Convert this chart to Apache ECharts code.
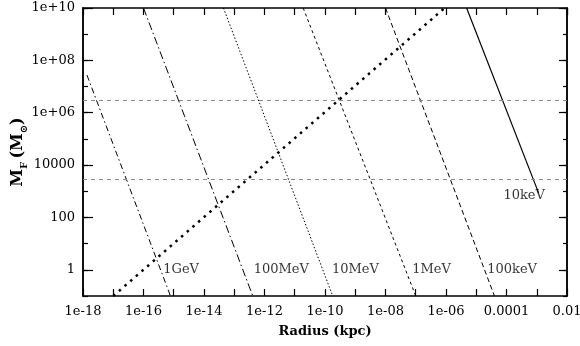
<!DOCTYPE html>
<html>
<head>
<meta charset="utf-8">
<script src="https://cdn.jsdelivr.net/npm/echarts@6/dist/echarts.min.js"></script>
<style>
html, body { margin: 0; padding: 0; background: #fff; }
#chart { width: 580px; height: 346px; }
</style>
</head>
<body>
<div id="chart"></div>
<script>
// end points of each straight line (log-log)
var curveNames = ['1GeV', '100MeV', '10MeV', '1MeV', '100keV', '10keV'];
var curve1GeV = [[1.35e-18, 2.75e7], [7.8e-16, 0.1]];
var curve100MeV = [[1.0e-16, 1e10], [4.1e-13, 0.1]];
var curve10MeV = [[4.4e-14, 1e10], [1.8e-10, 0.1]];
var curve1MeV = [[1.9e-11, 1e10], [1.0e-7, 0.1]];
var curve100keV = [[1.0e-8, 1e10], [4.0e-5, 0.1]];
var curve10keV = [[4.8e-6, 1e10], [1.15e-3, 870]];
var risingLine = [[1e-17, 0.1], [9e-7, 1e10]];

// horizontal reference levels
var refLevels = [3e6, 3e3];

// text next to the curves: [x, y, text]
var curveLabels = [
	[4.5e-16, 1, '1GeV'],
	[4.4e-13, 1, '100MeV'],
	[1.7e-10, 1, '10MeV'],
	[7.6e-8, 1, '1MeV'],
	[2.3e-5, 1, '100keV'],
	[7.9e-5, 660, '10keV']
];

// tick labels (exponent -> text)
var xTickExps = [-18, -16, -14, -12, -10, -8, -6, -4, -2];
var xTickTexts = ['1e-18', '1e-16', '1e-14', '1e-12', '1e-10', '1e-08', '1e-06', '0.0001', '0.01'];
var yTickExps = [0, 2, 4, 6, 8, 10];
var yTickTexts = ['1', '100', '10000', '1e+06', '1e+08', '1e+10'];

var FONT = '"DejaVu Serif", "Liberation Serif", serif';

function tickText(exps, texts) {
	return function(v) {
		var e = Math.round(Math.log10(v));
		var i = exps.indexOf(e);
		return i < 0 ? '' : texts[i];
	};
}

function logAxis(opts) {
	var ax = {
		type : 'log',
		logBase : 10,
		min : opts.min,
		max : opts.max,
		interval : 1,
		position : opts.position,
		axisLine : { show : true, onZero : false, lineStyle : { color : '#000', width : 1.5 } },
		axisTick : { show : true, inside : true, length : opts.tick, lineStyle : { color : '#000', width : 1.2 } },
		axisLabel : { show : false },
		splitLine : { show : false },
		minorTick : { show : false }
	};
	if (opts.customTicks) {
		ax.axisTick.customValues = opts.customTicks;
	}
	return ax;
}

var chart = echarts.init(document.getElementById('chart'));

// x axes: bottom with labels, top mirror
var xBottom = logAxis({ min : 1e-18, max : 1e-2, position : 'bottom', tick : 7 });
xBottom.axisLabel = {
	show : true,
	margin : 9,
	color : '#000',
	fontFamily : FONT,
	fontSize : 13,
	formatter : tickText(xTickExps, xTickTexts)
};
xBottom.name = 'Radius (kpc)';
xBottom.nameLocation = 'middle';
xBottom.nameGap = 29;
xBottom.nameTextStyle = { color : '#000', fontFamily : FONT, fontSize : 13, fontWeight : 'bold' };
var xTop = logAxis({ min : 1e-18, max : 1e-2, position : 'top', tick : 7 });

// y axes: minor ticks every decade, longer major ticks every two decades
var yMajorVals = [];
for (var k = 0; k < yTickExps.length; k++) {
	yMajorVals.push(Math.pow(10, yTickExps[k]));
}
var yLeft = logAxis({ min : 0.1, max : 1e10, position : 'left', tick : 10, customTicks : yMajorVals });
yLeft.axisLabel = {
	show : true,
	margin : 8,
	color : '#000',
	fontFamily : FONT,
	fontSize : 13,
	customValues : yMajorVals,
	formatter : tickText(yTickExps, yTickTexts)
};
yLeft.name = '{m|M}{s|F} {m|(M}{s|\u2299}{m|)}';
yLeft.nameLocation = 'middle';
yLeft.nameGap = 57;
yLeft.nameMoveOverlap = false;
yLeft.nameRotate = 90;
yLeft.nameTextStyle = {
	color : '#000',
	rich : {
		m : { fontFamily : FONT, fontSize : 16, fontWeight : 'bold', color : '#000', lineHeight : 20, verticalAlign : 'bottom' },
		s : { fontFamily : FONT, fontSize : 10, fontWeight : 'bold', color : '#000', lineHeight : 20, verticalAlign : 'bottom', padding : [0, 0, -3, 0] }
	}
};
var yLeftMinor = logAxis({ min : 0.1, max : 1e10, position : 'left', tick : 5 });
var yRight = logAxis({ min : 0.1, max : 1e10, position : 'right', tick : 8, customTicks : yMajorVals });
var yRightMinor = logAxis({ min : 0.1, max : 1e10, position : 'right', tick : 4 });

function lineSeries(data, dash, width) {
	return {
		type : 'line',
		xAxisIndex : 0,
		yAxisIndex : 0,
		data : data,
		symbol : 'none',
		silent : true,
		lineStyle : { color : '#000', width : width || 1, type : dash || 'solid', cap : 'butt' }
	};
}

var series = [
	lineSeries(curve1GeV, [6, 3, 1.5, 3]),
	lineSeries(curve100MeV, [8, 3, 1.5, 3]),
	lineSeries(curve10MeV, [1.5, 2]),
	lineSeries(curve1MeV, [3, 3]),
	lineSeries(curve100keV, [5, 3]),
	lineSeries(curve10keV, 'solid', 1.2),
	lineSeries(risingLine, [2.5, 5], 2.5)
];

// grey dashed reference levels
series.push({
	type : 'line',
	data : [],
	silent : true,
	markLine : {
		silent : true,
		symbol : 'none',
		label : { show : false },
		lineStyle : { color : '#888', width : 1, type : [4, 4] },
		data : refLevels.map(function(v) {
			return { yAxis : v };
		})
	}
});

// curve labels
series.push({
	type : 'scatter',
	symbolSize : 0,
	silent : true,
	data : curveLabels.map(function(l) {
		return { value : [l[0], l[1]], name : l[2] };
	}),
	label : {
		show : true,
		position : 'right',
		distance : 0,
		formatter : '{b}',
		color : '#000',
		fontFamily : FONT,
		fontSize : 13
	}
});

chart.setOption({
	animation : false,
	backgroundColor : '#fff',
	grid : { left : 83, right : 13, top : 8, bottom : 50, outerBoundsMode : 'none' },
	xAxis : [xBottom, xTop],
	yAxis : [yLeft, yLeftMinor, yRight, yRightMinor],
	series : series
});
</script>
</body>
</html>
